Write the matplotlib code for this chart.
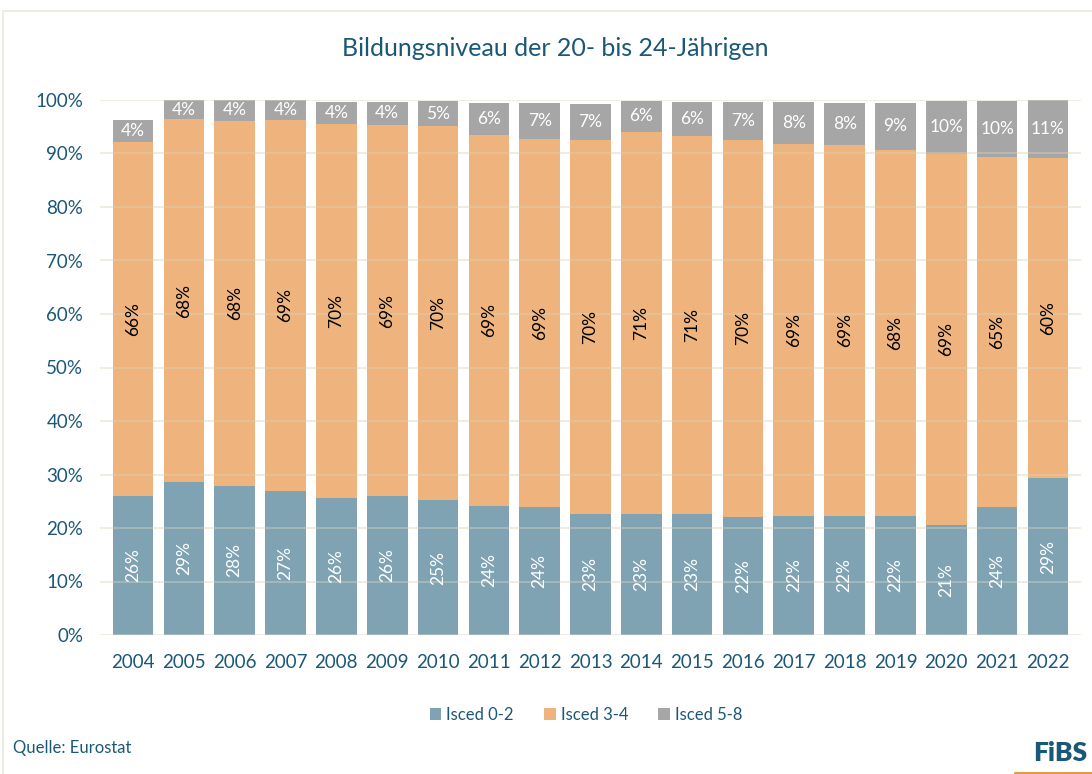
import numpy as np
import matplotlib.pyplot as plt
from matplotlib.patches import Rectangle
from matplotlib.lines import Line2D

plt.rcParams['font.family'] = ['Lato', 'DejaVu Sans']

# Jahre und Anteile (in %)
years = ['2004', '2005', '2006', '2007', '2008', '2009', '2010', '2011', '2012', '2013',
         '2014', '2015', '2016', '2017', '2018', '2019', '2020', '2021', '2022']
isced_02 = [26.0, 28.6, 27.9, 27.0, 25.7, 26.0, 25.2, 24.2, 23.9, 22.7,
            22.7, 22.7, 22.1, 22.3, 22.3, 22.3, 20.6, 24.0, 29.3]
isced_34 = [66.2, 67.8, 68.2, 69.2, 69.9, 69.3, 69.9, 69.2, 68.8, 69.8,
            71.3, 70.6, 70.4, 69.4, 69.3, 68.4, 69.4, 65.4, 59.9]
isced_58 = [4.1, 3.6, 3.9, 3.8, 4.1, 4.4, 4.7, 6.0, 6.7, 6.8,
            5.9, 6.3, 7.1, 7.9, 7.9, 8.8, 9.9, 10.4, 10.8]
series_names = ['Isced 0-2', 'Isced 3-4', 'Isced 5-8']

c_blue = '#7FA3B3'
c_orange = '#EFB47D'
c_grey = '#A6A6A6'
c_text = '#1B5877'

fig = plt.figure(figsize=(10.92, 7.74), dpi=100)
ax = fig.add_axes([100 / 1092, 139 / 774, 981 / 1092, 535 / 774])

# Rahmen um die Grafik
fig.patches.append(Rectangle((3 / 1092, -0.05), 1.2, (774 - 11) / 774 + 0.05,
                             transform=fig.transFigure, fill=False,
                             edgecolor='#EEEBE0', lw=1.5))

x = np.arange(len(years))
w = 0.8
b1 = np.array(isced_02)
b2 = b1 + np.array(isced_34)
ax.bar(x, isced_02, w, color=c_blue, label=series_names[0], zorder=2)
ax.bar(x, isced_34, w, bottom=b1, color=c_orange, label=series_names[1], zorder=2)
ax.bar(x, isced_58, w, bottom=b2, color=c_grey, label=series_names[2], zorder=2)

# Datenbeschriftungen
for i in range(len(years)):
    ax.text(x[i], isced_02[i] / 2, f"{isced_02[i]:.0f}%", rotation=90,
            ha='center', va='center', color='white', fontsize=12.5, zorder=4)
    ax.text(x[i], b1[i] + isced_34[i] / 2, f"{isced_34[i]:.0f}%", rotation=90,
            ha='center', va='center', color='black', fontsize=12.5, zorder=4)
    ax.text(x[i], b2[i] + isced_58[i] / 2, f"{isced_58[i]:.0f}%",
            ha='center', va='center', color='white', fontsize=12.5, zorder=4)

# Gitterlinien über den Balken
for yv in range(0, 101, 10):
    ax.axhline(yv, color='#D9D2B8', lw=1.2, alpha=0.5, zorder=3)

ax.set_xlim(-0.65, len(years) - 0.35)
ax.set_ylim(0, 100)
ax.set_yticks(range(0, 101, 10))
ax.set_yticklabels([f"{v}%" for v in range(0, 101, 10)])
ax.set_xticks(x)
ax.set_xticklabels(years)
ax.tick_params(axis='both', length=0, labelsize=13.5, colors=c_text)
ax.tick_params(axis='x', pad=14)
ax.tick_params(axis='y', pad=12)
for s in ax.spines.values():
    s.set_visible(False)

fig.text(555 / 1092, 1 - 48 / 774, 'Bildungsniveau der 20- bis 24-Jährigen',
         ha='center', va='center', fontsize=18, color=c_text)

fig.legend(loc='center', bbox_to_anchor=(586 / 1092, 1 - 715 / 774), ncol=3,
           frameon=False, fontsize=12, labelcolor=c_text, handlelength=0.7,
           handleheight=0.7, handletextpad=0.3, columnspacing=1.8)

fig.text(13 / 1092, 1 - 748 / 774, 'Quelle: Eurostat', ha='left', va='center',
         fontsize=12, color=c_text)

# Logo
fig.text(1087 / 1092, 1 - 753 / 774, 'FiBS', ha='right', va='center',
         fontsize=19, fontweight='heavy', color=c_text)
fig.lines.append(Line2D([1015 / 1092, 1.0], [1 - 772.5 / 774, 1 - 772.5 / 774],
                        transform=fig.transFigure, color='#E8913A', lw=2))

fig.savefig('out.png', dpi=100)
